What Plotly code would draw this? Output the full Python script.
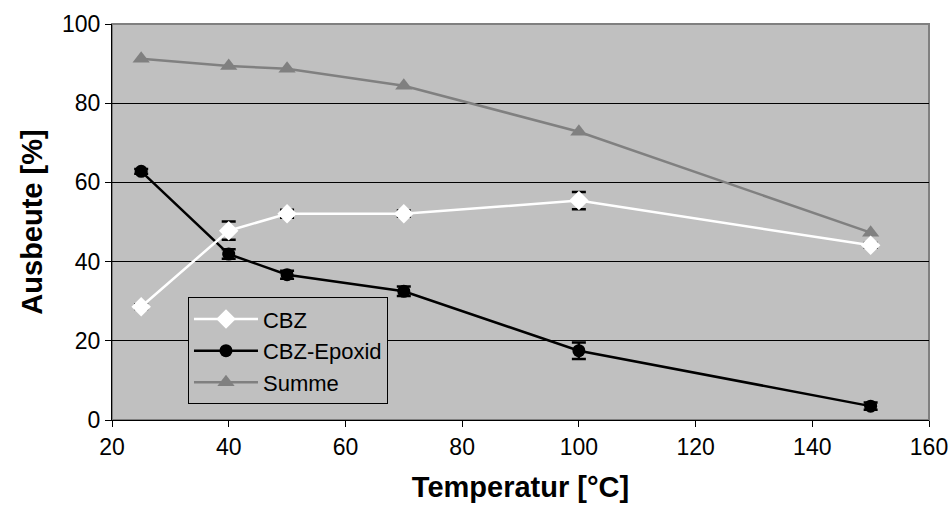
import plotly.graph_objects as go

temps = [25, 40, 50, 70, 100, 150]
cbz = [28.6, 47.8, 52.1, 52.1, 55.4, 44.1]
cbz_err = [0.6, 2.3, 1.0, 0.8, 2.2, 0.6]
epox = [62.8, 41.9, 36.7, 32.5, 17.5, 3.5]
epox_err = [0.6, 1.2, 1.0, 1.2, 2.1, 0.9]
summe = [91.2, 89.4, 88.7, 84.4, 72.8, 47.3]

fig = go.Figure()
fig.add_trace(go.Scatter(
    x=temps, y=summe, name="Summe", mode="lines+markers",
    line=dict(color="#808080", width=2.5),
    marker=dict(symbol="triangle-up", size=15, color="#808080"),
))
fig.add_trace(go.Scatter(
    x=temps, y=epox, name="CBZ-Epoxid", mode="lines+markers",
    line=dict(color="black", width=2.5),
    marker=dict(symbol="circle", size=13, color="black"),
    error_y=dict(type="data", array=epox_err, color="black", thickness=2.5, width=7),
))
fig.add_trace(go.Scatter(
    x=temps, y=cbz, name="CBZ", mode="lines+markers",
    line=dict(color="white", width=2.5),
    marker=dict(symbol="diamond", size=15, color="white"),
    error_y=dict(type="data", array=cbz_err, color="black", thickness=2.5, width=7),
))

fig.update_layout(
    width=949, height=510,
    margin=dict(l=112, r=20, t=24, b=90),
    paper_bgcolor="white", plot_bgcolor="#C0C0C0",
    font=dict(family="Liberation Sans, Arial, sans-serif", size=22, color="black"),
    showlegend=True,
    legend=dict(
        x=0.093, y=0.31, xanchor="left", yanchor="top",
        bgcolor="#C0C0C0", bordercolor="black", borderwidth=1,
        font=dict(size=22), traceorder="reversed",
        itemwidth=64, tracegroupgap=0,
    ),
    xaxis=dict(
        range=[20, 160], tickvals=[20, 40, 60, 80, 100, 120, 140, 160],
        ticks="outside", ticklen=6, tickcolor="black", showgrid=False,
        tickfont=dict(size=23), automargin=False,
        showline=True, linecolor="black", linewidth=1, mirror=False,
        zeroline=False,
        title=dict(text="<b>Temperatur [°C]</b>", font=dict(size=29), standoff=18),
    ),
    yaxis=dict(
        range=[0, 100], tickvals=[0, 20, 40, 60, 80, 100],
        ticks="outside", ticklen=6, tickcolor="black",
        tickfont=dict(size=23), automargin=False,
        showgrid=True, gridcolor="black", gridwidth=1,
        showline=True, linecolor="black", linewidth=1,
        zeroline=False,
        title=dict(text="<b>Ausbeute [%]</b>", font=dict(size=29), standoff=10),
    ),
)
fig.add_shape(type="rect", xref="paper", yref="paper", x0=0, x1=1, y0=0, y1=1,
              line=dict(color="#808080", width=2), layer="below")

fig.write_html(
    "out.html",
    config={"displayModeBar": False},
    post_script="document.body.style.margin='0';document.body.style.overflow='hidden';",
)
